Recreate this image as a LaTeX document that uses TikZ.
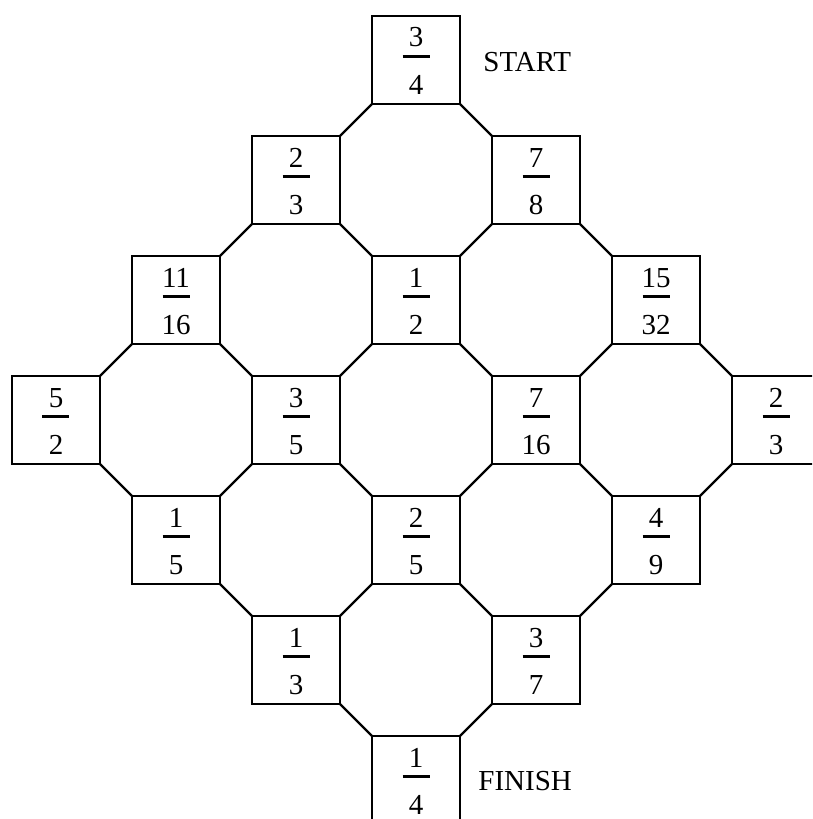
\documentclass[tikz,border=0pt]{standalone}
\usepackage{fontspec}
\setmainfont{Liberation Serif}
\usepackage{tikz}
\usetikzlibrary{calc}
% square with a fraction: name, position, numerator, denominator
\newcommand{\fsq}[4]{%
  \node[sq] (#1) at (#2) {};
  \node[anchor=base] at ([yshift=6.5pt]#1.center) {#3};
  \draw[line width=1.25pt] ([xshift=-6.75pt,yshift=1.75pt]#1.center) -- ++(13.5pt,0);
  \node[anchor=base] at ([yshift=-17pt]#1.center) {#4};}

\begin{document}
\begin{tikzpicture}[x=60pt,y=60pt,font=\fontsize{14.5}{17}\selectfont,
  sq/.style={draw,line width=1.2pt,minimum size=44pt,inner sep=0pt,outer sep=0pt},
  lk/.style={line width=1.2pt}]
  \clip (-3.4667,0.5) rectangle (3.3,-6.325);
  \fsq{s30}{0,0}{3}{4}
  \fsq{s21}{-1,-1}{2}{3}
  \fsq{s41}{1,-1}{7}{8}
  \fsq{s12}{-2,-2}{11}{16}
  \fsq{s32}{0,-2}{1}{2}
  \fsq{s52}{2,-2}{15}{32}
  \fsq{s03}{-3,-3}{5}{2}
  \fsq{s23}{-1,-3}{3}{5}
  \fsq{s43}{1,-3}{7}{16}
  \fsq{s63}{3,-3}{2}{3}
  \fsq{s14}{-2,-4}{1}{5}
  \fsq{s34}{0,-4}{2}{5}
  \fsq{s54}{2,-4}{4}{9}
  \fsq{s25}{-1,-5}{1}{3}
  \fsq{s45}{1,-5}{3}{7}
  \fsq{s36}{0,-6}{1}{4}
  \node[anchor=base west,inner sep=0pt] (start) at ([xshift=33.5pt,yshift=-5.5pt]s30.center) {START};
  \node[anchor=base west,inner sep=0pt] (finish) at ([xshift=31pt,yshift=-5.3pt]s36.center) {FINISH};
  % octagon corners
  \draw[lk] (s30.south east) -- (s41.north west);
  \draw[lk] (s30.south west) -- (s21.north east);
  \draw[lk] (s21.south east) -- (s32.north west);
  \draw[lk] (s21.south west) -- (s12.north east);
  \draw[lk] (s41.south east) -- (s52.north west);
  \draw[lk] (s41.south west) -- (s32.north east);
  \draw[lk] (s12.south east) -- (s23.north west);
  \draw[lk] (s12.south west) -- (s03.north east);
  \draw[lk] (s32.south east) -- (s43.north west);
  \draw[lk] (s32.south west) -- (s23.north east);
  \draw[lk] (s52.south east) -- (s63.north west);
  \draw[lk] (s52.south west) -- (s43.north east);
  \draw[lk] (s03.south east) -- (s14.north west);
  \draw[lk] (s23.south east) -- (s34.north west);
  \draw[lk] (s23.south west) -- (s14.north east);
  \draw[lk] (s43.south east) -- (s54.north west);
  \draw[lk] (s43.south west) -- (s34.north east);
  \draw[lk] (s63.south west) -- (s54.north east);
  \draw[lk] (s14.south east) -- (s25.north west);
  \draw[lk] (s34.south east) -- (s45.north west);
  \draw[lk] (s34.south west) -- (s25.north east);
  \draw[lk] (s54.south west) -- (s45.north east);
  \draw[lk] (s25.south east) -- (s36.north west);
  \draw[lk] (s45.south west) -- (s36.north east);
\end{tikzpicture}
\end{document}
